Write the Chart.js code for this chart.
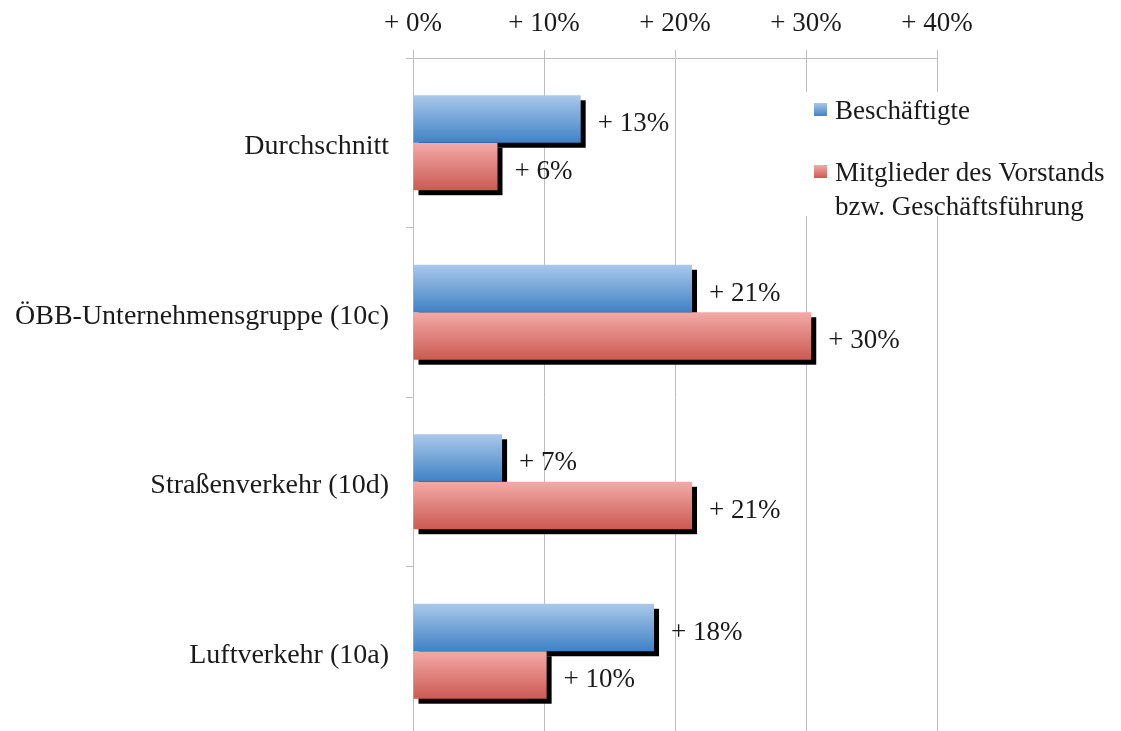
<!DOCTYPE html>
<html>
<head>
<meta charset="utf-8">
<script src="https://cdn.jsdelivr.net/npm/chart.js@4.4.1/dist/chart.umd.min.js"></script>
<style>
    html, body { margin: 0; padding: 0; background: #fff; overflow: hidden; }
    #wrap { width: 1121px; height: 736px; position: relative; }
</style>
</head>
<body>
<div id="wrap"><canvas id="grafik"></canvas></div>
<script>
const kategorien = ['Durchschnitt', 'ÖBB-Unternehmensgruppe (10c)', 'Straßenverkehr (10d)', 'Luftverkehr (10a)'];
const beschaeftigte = [12.8, 21.3, 6.8, 18.4];
const vorstand = [6.45, 30.4, 21.3, 10.2];
const achsenTicks = ['+ 0%', '+ 10%', '+ 20%', '+ 30%', '+ 40%'];
const legendeTexte = [['Beschäftigte'], ['Mitglieder des Vorstands', 'bzw. Geschäftsführung']];

// Verlauf oben hell -> unten dunkel
const farben = [
    ['#aac8ea', '#3f82c6'],
    ['#f3aaa8', '#cc5a52']
];
const textFarbe = '#1a1a1a';
const gitterFarbe = '#bdbdbd';
const schrift = 'Liberation Serif';

// Schatten + Verlauf fuer jeden Balken
const schattenPlugin = {
    id: 'schatten',
    beforeDatasetsDraw(chart) {
        const ctx = chart.ctx;
        ctx.save();
        ctx.fillStyle = '#000';
        chart.data.datasets.forEach((ds, i) => {
            chart.getDatasetMeta(i).data.forEach(bar => {
                const top = bar.y - bar.height / 2;
                ctx.fillRect(bar.base + 5, top + 5, bar.x - bar.base, bar.height);
                const g = ctx.createLinearGradient(0, top, 0, top + bar.height);
                g.addColorStop(0, farben[i][0]);
                g.addColorStop(1, farben[i][1]);
                bar.options = Object.assign({}, bar.options, { backgroundColor: g });
            });
        });
        ctx.restore();
    }
};

// Werte rechts neben den Balken
const labelPlugin = {
    id: 'werte',
    afterDatasetsDraw(chart) {
        const ctx = chart.ctx;
        ctx.save();
        ctx.font = `27px "${schrift}"`;
        ctx.fillStyle = textFarbe;
        ctx.textBaseline = 'middle';
        ctx.textAlign = 'left';
        chart.data.datasets.forEach((ds, i) => {
            chart.getDatasetMeta(i).data.forEach((bar, j) => {
                ctx.fillText('+ ' + Math.round(ds.data[j]) + '%', bar.x + 17, bar.y + 5);
            });
        });
        ctx.restore();
    }
};

// Legende rechts oben im Diagramm
const legendePlugin = {
    id: 'legende',
    afterDraw(chart) {
        const ctx = chart.ctx;
        ctx.save();
        ctx.fillStyle = '#fff';
        ctx.fillRect(800, 92, 321, 124);
        ctx.font = `27px "${schrift}"`;
        ctx.textBaseline = 'middle';
        ctx.textAlign = 'left';
        const startY = [110, 172];
        legendeTexte.forEach((zeilen, i) => {
            const y = startY[i];
            const g = ctx.createLinearGradient(0, y - 7, 0, y + 6);
            g.addColorStop(0, farben[i][0]);
            g.addColorStop(1, farben[i][1]);
            ctx.fillStyle = g;
            ctx.fillRect(814, y - 7, 13, 13);
            ctx.fillStyle = textFarbe;
            zeilen.forEach((z, k) => ctx.fillText(z, 835, y + 2 + k * 34));
        });
        ctx.restore();
    }
};

new Chart(document.getElementById('grafik'), {
    type: 'bar',
    data: {
        labels: kategorien,
        datasets: [
            { label: legendeTexte[0].join(' '), data: beschaeftigte, backgroundColor: farben[0][1] },
            { label: legendeTexte[1].join(' '), data: vorstand, backgroundColor: farben[1][1] }
        ]
    },
    options: {
        indexAxis: 'y',
        responsive: true,
        maintainAspectRatio: false,
        animation: false,
        categoryPercentage: 0.56,
        barPercentage: 1.0,
        layout: { padding: { top: 0, right: 184, bottom: 0, left: 0 } },
        plugins: {
            legend: { display: false },
            tooltip: { enabled: false }
        },
        scales: {
            x: {
                position: 'top',
                min: 0,
                max: 40,
                ticks: {
                    stepSize: 10,
                    callback: (v, i) => achsenTicks[i],
                    color: textFarbe,
                    font: { family: schrift, size: 27 },
                    padding: 10
                },
                grid: { color: gitterFarbe, tickLength: 8 },
                border: { color: gitterFarbe },
                afterFit(s) { s.height = 58; s.paddingLeft = 0; s.paddingRight = 0; }
            },
            y: {
                grid: { offset: true, drawOnChartArea: false, tickLength: 7, color: gitterFarbe },
                border: { color: gitterFarbe },
                ticks: {
                    color: textFarbe,
                    font: { family: schrift, size: 28 },
                    padding: 17,
                    labelOffset: 4
                },
                afterFit(s) { s.width = 413; s.paddingTop = 0; s.paddingBottom = 0; }
            }
        }
    },
    plugins: [schattenPlugin, labelPlugin, legendePlugin]
});
</script>
</body>
</html>
